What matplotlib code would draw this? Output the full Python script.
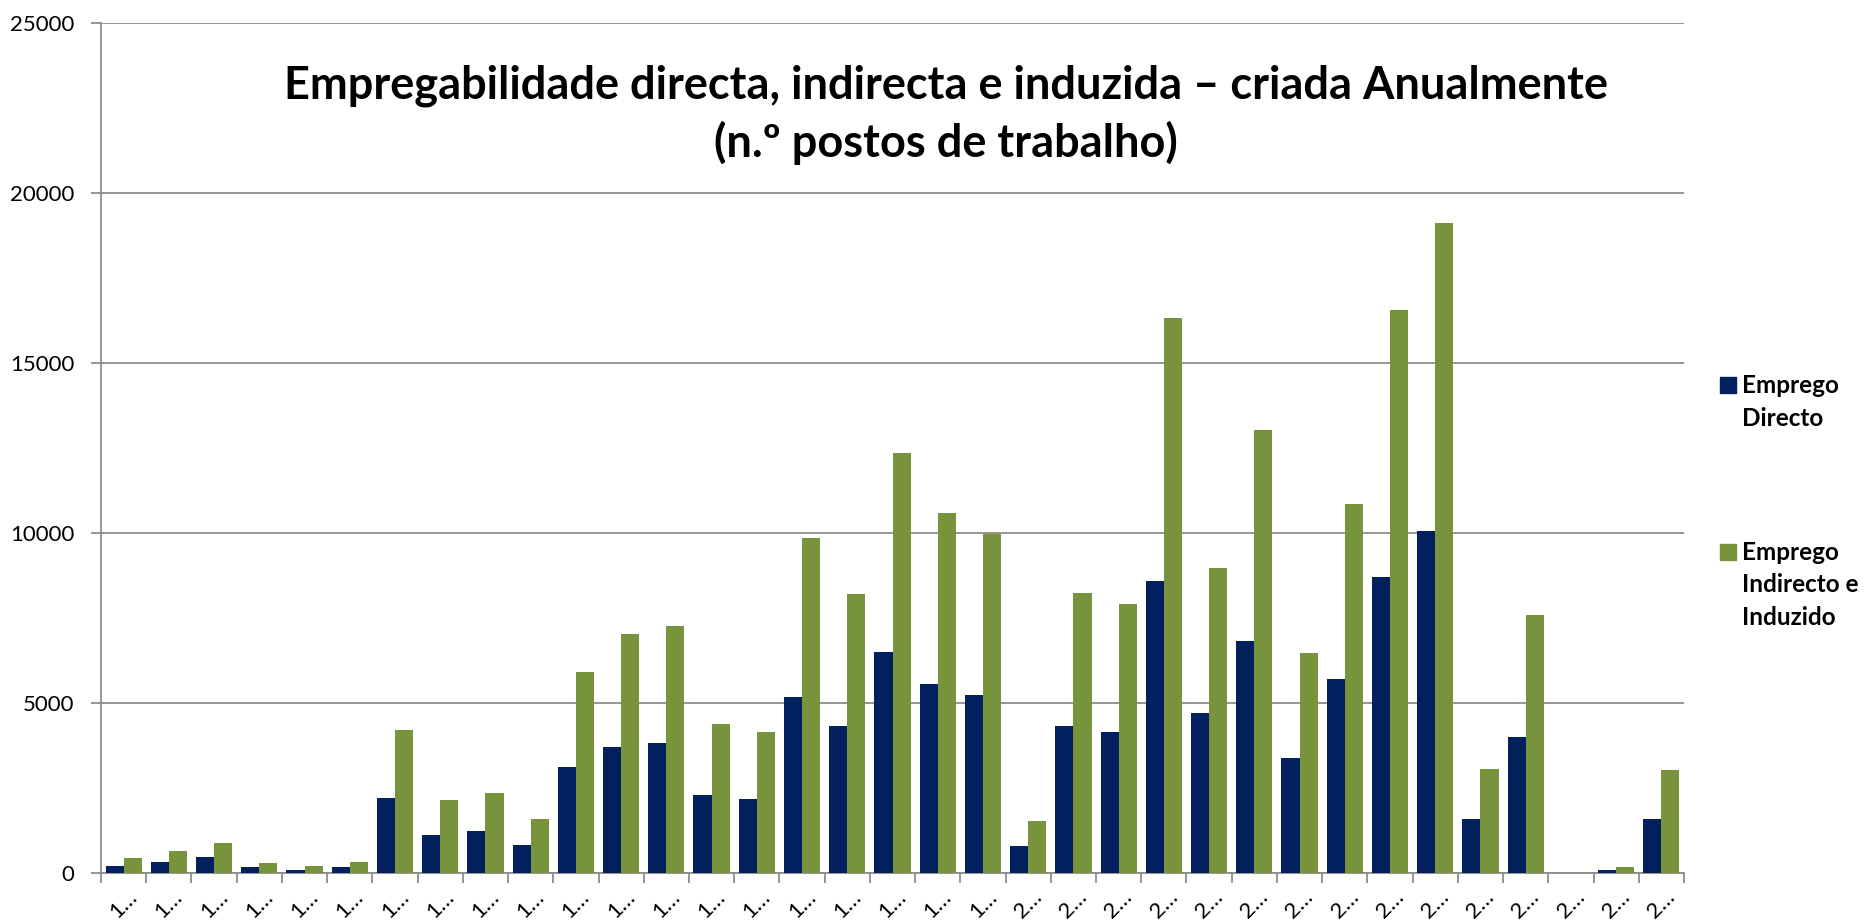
import matplotlib.pyplot as plt
from matplotlib.patches import Rectangle
import numpy as np

# categories (year labels are truncated in the original chart)
CATEGORY_LABELS = ['1…'] * 20 + ['2…'] * 15

EMPREGO_DIRECTO = [
    206, 324, 451, 157, 88, 157, 2196, 1108, 1235, 824,
    3098, 3696, 3814, 2284, 2167, 5176, 4304, 6480, 5549, 5225,
    794, 4304, 4147, 8580, 4710, 6828, 3375, 5703, 8690, 10048,
    1591, 3983, 0, 65, 1578,
]
EMPREGO_INDIRECTO = [
    422, 637, 863, 294, 196, 314, 4186, 2127, 2353, 1569,
    5902, 7029, 7265, 4382, 4147, 9853, 8206, 12353, 10588, 9961,
    1529, 8216, 7892, 16320, 8975, 13009, 6453, 10850, 16540, 19113,
    3039, 7591, 0, 155, 3026,
]
SERIES_NAMES = ['Emprego\nDirecto', 'Emprego\nIndirecto e\nInduzido']
Y_TICKS = [0, 5000, 10000, 15000, 20000, 25000]

NAVY = '#02205E'
GREEN = '#77933C'
GRID = '#8C8C8C'

plt.rcParams['font.family'] = ['Lato', 'DejaVu Sans']

fig = plt.figure(figsize=(18.64, 9.24), dpi=100)
ax = fig.add_axes([101 / 1864, 1 - 872.7 / 924, (1684 - 101) / 1864, (872.7 - 22.7) / 924])

x = np.arange(len(CATEGORY_LABELS)) + 0.5
bar_w = 0.4
ax.bar(x - bar_w / 2, EMPREGO_DIRECTO, width=bar_w, color=NAVY, zorder=3)
ax.bar(x + bar_w / 2, EMPREGO_INDIRECTO, width=bar_w, color=GREEN, zorder=3)

ax.set_xlim(0, len(CATEGORY_LABELS))
ax.set_ylim(0, 25000)

# y axis
ax.set_yticks(Y_TICKS)
ax.set_yticklabels([str(v) for v in Y_TICKS], fontsize=16)
ax.yaxis.grid(True, color=GRID, linewidth=1.3, zorder=0)
ax.tick_params(axis='y', length=7, width=1.3, color=GRID, pad=12)

# x axis: ticks between groups, labels at group centres
ax.set_xticks(np.arange(len(CATEGORY_LABELS) + 1))
ax.set_xticklabels([])
ax.tick_params(axis='x', which='major', length=7, width=1.3, color=GRID)
ax.set_xticks(x, minor=True)
ax.set_xticklabels(CATEGORY_LABELS, minor=True, rotation=45, fontsize=16)
ax.tick_params(axis='x', which='minor', length=0, pad=10)

for side in ['top', 'right']:
    ax.spines[side].set_visible(False)
for side in ['left', 'bottom']:
    ax.spines[side].set_color(GRID)
    ax.spines[side].set_linewidth(1.3)

# title
fig.text(946 / 1864, 1 - 86 / 924,
         'Empregabilidade directa, indirecta e induzida – criada Anualmente',
         ha='center', va='center', fontsize=32.5, fontweight='bold')
fig.text(946 / 1864, 1 - 143 / 924, '(n.º postos de trabalho)',
         ha='center', va='center', fontsize=32.5, fontweight='bold')

# legend drawn by hand so the squares sit on the first line
legend_rows = [(385, NAVY, SERIES_NAMES[0]), (552, GREEN, SERIES_NAMES[1])]
for y_px, color, name in legend_rows:
    fig.add_artist(Rectangle((1720 / 1864, 1 - (y_px + 8) / 924), 16 / 1864, 16 / 924,
                             transform=fig.transFigure, color=color))
    fig.text(1742 / 1864, 1 - (y_px - 11) / 924, name, ha='left', va='top',
             fontsize=17.5, fontweight='bold', linespacing=1.5)

fig.savefig('out.png', dpi=100)
